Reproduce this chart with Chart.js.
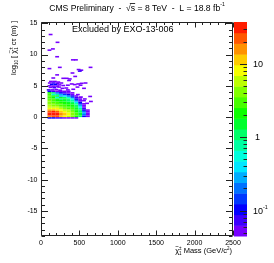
<!DOCTYPE html>
<html lang="en">
<head>
<meta charset="UTF-8">
<title>Chargino lifetime vs mass</title>
<script src="https://cdn.jsdelivr.net/npm/chart.js"></script>
<style>
  body { margin: 0; background: #fff; }
</style>
</head>
<body>
<canvas id="chart" width="274" height="263"></canvas>
<script>
// histogram bin sizes
const massBin = 50;
const logBin = 0.25;

// main blob: columns are mass bin centres, rows are log10(c tau) bin centres, bottom to top
const massCenters = [110, 160, 210, 260, 310, 360, 410, 460, 510, 560, 610];
const logCenters = [-0.125, 0.125, 0.375, 0.625, 0.875, 1.125, 1.375, 1.625, 1.875,
                    2.125, 2.375, 2.625, 2.875, 3.125, 3.375, 3.625, 3.875, 4.125];
const blobValues = [
  [0.1, 0.1, 0.08, 0.07, 0.06, 0.05, 0.05, 0.05, 0, 0, 0],
  [18, 26, 20, 12, 9, 6, 4, 2.5, 1.2, 0.1, 0.05],
  [28, 35, 28, 15, 10, 7, 4.5, 3, 1.5, 0.2, 0.05],
  [30, 36, 28, 16, 10, 7, 4.5, 3, 1.5, 0.3, 0.06],
  [24, 27, 20, 13, 9, 6, 4, 2.5, 1.2, 0.2, 0.05],
  [14, 15, 11, 8, 6, 5, 3.5, 2, 1, 0.12, 0.05],
  [9, 8, 7, 5, 4, 3.5, 3, 1.8, 0.7, 0.08, 0],
  [6, 5.5, 5, 4, 3.5, 3, 2.5, 1.5, 0.4, 0.06, 0],
  [5, 4.5, 4, 3.5, 3, 2.5, 2, 1, 0.25, 0.05, 0],
  [4.5, 4, 3.5, 3, 2.5, 2, 1.5, 0.8, 0.15, 0.05, 0],
  [4, 3.5, 3, 2.5, 2, 1.8, 1.2, 0.4, 0.1, 0, 0],
  [4, 3.5, 2.5, 2, 1.8, 1.2, 0.7, 0.2, 0.06, 0.05, 0],
  [3.5, 3, 2, 1.2, 1.5, 1, 0.5, 0.12, 0.05, 0, 0],
  [3.5, 2.5, 0.6, 1.5, 1, 0.5, 0.2, 0.08, 0.05, 0, 0],
  [3, 2.2, 1.5, 0.3, 0.4, 0.2, 0.1, 0.06, 0, 0, 0],
  [3, 0.5, 0.8, 0.3, 0.15, 0.1, 0.06, 0, 0, 0, 0],
  [2.5, 1, 0.2, 0.1, 0.08, 0.06, 0.05, 0, 0, 0, 0],
  [0.1, 0.08, 0.06, 0.05, 0.05, 0.05, 0, 0, 0, 0, 0]
];

// isolated cells above and right of the blob: [mass, log10(c tau), entries]
const strayCells = [
  [125, 13.2, 0.05], [215, 11.95, 0.05], [110, 10.7, 0.05], [155, 10.9, 0.05],
  [210, 9.65, 0.05], [415, 9.15, 0.05], [455, 9.15, 0.05],
  [110, 7.75, 0.05], [245, 7.95, 0.05], [490, 7.6, 0.06], [525, 7.5, 0.05],
  [505, 7.35, 0.08], [645, 7.95, 0.05], [410, 7.05, 0.05], [210, 6.75, 0.05],
  [445, 6.5, 0.05], [160, 6.25, 0.05], [290, 6.2, 0.05], [335, 6.2, 0.05],
  [375, 6.1, 0.05], [365, 5.85, 0.05],
  [130, 5.7, 0.05], [180, 5.7, 0.05], [225, 5.6, 0.05], [115, 5.45, 0.05],
  [165, 5.45, 0.07], [215, 5.4, 0.05], [265, 5.45, 0.05], [140, 5.2, 0.09],
  [190, 5.2, 0.12], [240, 5.15, 0.05], [110, 5.0, 0.05], [160, 4.95, 0.05],
  [210, 4.95, 0.05], [290, 5.05, 0.05], [350, 5.1, 0.06], [400, 5.3, 0.05],
  [440, 5.2, 0.05], [485, 5.3, 0.05], [530, 5.4, 0.05], [580, 5.45, 0.05],
  [515, 5.1, 0.05], [125, 4.75, 0.05], [175, 4.7, 0.07], [235, 4.8, 0.05],
  [330, 4.65, 0.05], [280, 4.6, 0.05], [475, 4.8, 0.05], [560, 4.6, 0.05],
  [100, 4.35, 0.07], [150, 4.35, 0.05], [200, 4.4, 0.05], [250, 4.3, 0.05],
  [350, 4.35, 0.05], [420, 4.45, 0.05], [650, 2.5, 0.05], [640, 3.3, 0.05],
  [520, 3.2, 0.05], [570, 2.9, 0.05], [600, 2.2, 0.05], [480, 3.6, 0.05]
];

const massTicks = [0, 500, 1000, 1500, 2000, 2500];
const logTicks = [-15, -10, -5, 0, 5, 10, 15];
const zTicks = [0.1, 1, 10];
const zRange = [0.045, 37];
const nLevels = 20;

const FONT = '"Liberation Sans", Arial, sans-serif';

function levelIndex(v) {
  const lo = Math.log10(zRange[0]), hi = Math.log10(zRange[1]);
  const i = Math.floor((Math.log10(v) - lo) / (hi - lo) * nLevels);
  return Math.max(0, Math.min(nLevels - 1, i));
}
function levelColor(i) {
  const hue = 275 * (1 - (i + 0.5) / nLevels);
  return 'hsl(' + hue.toFixed(1) + ',100%,50%)';
}

// text with sub/superscripts: [text, scale, rise(em), mode]
function drawParts(ctx, parts, x, y, size, align) {
  const items = [];
  let pos = 0, prevStart = 0, prevW = 0;
  for (const p of parts) {
    const [t, s = 1, rise = 0, mode = ''] = p;
    ctx.font = (size * s) + 'px ' + FONT;
    const w = ctx.measureText(t).width;
    let start;
    if (mode === 'over') {
      start = prevStart + (prevW - w) / 2;
    } else if (mode === 'stack') {
      start = prevStart;
      pos = Math.max(pos, start + w);
      prevStart = start; prevW = w;
    } else {
      start = pos; pos += w;
      prevStart = start; prevW = w;
    }
    items.push({ t, fs: size * s, rise: rise * size, start, w, mode });
  }
  const x0 = align === 'right' ? x - pos : align === 'center' ? x - pos / 2 : x;
  ctx.textBaseline = 'alphabetic';
  ctx.textAlign = 'left';
  for (const it of items) {
    ctx.font = it.fs + 'px ' + FONT;
    ctx.fillText(it.t, x0 + it.start, y - it.rise);
    if (it.mode === 'bar') {
      ctx.fillRect(x0 + it.start - 1, y - it.fs * 0.85, it.w + 1, 0.8);
    }
  }
}

const heatmap = {
  id: 'heatmap',
  beforeDatasetsDraw(chart) {
    const { ctx, chartArea: a, scales: { x, y } } = chart;
    ctx.save();
    ctx.beginPath();
    ctx.rect(a.left, a.top, a.right - a.left, a.bottom - a.top);
    ctx.clip();
    const cell = (m, l, v) => {
      if (!v || v < zRange[0]) return;
      const x0 = x.getPixelForValue(m - massBin / 2), x1 = x.getPixelForValue(m + massBin / 2);
      const y0 = y.getPixelForValue(l + logBin / 2), y1 = y.getPixelForValue(l - logBin / 2);
      ctx.fillStyle = levelColor(levelIndex(v));
      ctx.fillRect(x0, y0, x1 - x0, y1 - y0);
    };
    blobValues.forEach((row, j) => row.forEach((v, i) => cell(massCenters[i], logCenters[j], v)));
    strayCells.forEach(([m, l, v]) => cell(m, l, v));
    ctx.restore();
  }
};

const frame = {
  id: 'frame',
  afterDraw(chart) {
    const { ctx, chartArea: a, scales: { x, y, z } } = chart;
    ctx.save();
    ctx.strokeStyle = '#222';
    ctx.fillStyle = '#000';
    ctx.lineWidth = 1;
    const L = Math.round(a.left) + 0.5, R = Math.round(a.right) - 0.5;
    const T = Math.round(a.top) + 0.5, B = Math.round(a.bottom) - 0.5;

    // colour bar
    const cb0 = Math.round(a.right) + 1, cb1 = cb0 + 13;
    const lz0 = Math.log10(zRange[0]), lz1 = Math.log10(zRange[1]);
    for (let i = 0; i < nLevels; i++) {
      const vlo = Math.pow(10, lz0 + (lz1 - lz0) * i / nLevels);
      const vhi = Math.pow(10, lz0 + (lz1 - lz0) * (i + 1) / nLevels);
      const p0 = z.getPixelForValue(vlo), p1 = z.getPixelForValue(vhi);
      ctx.fillStyle = levelColor(i);
      ctx.fillRect(cb0, p1, cb1 - cb0, p0 - p1 + 0.5);
    }

    ctx.beginPath();
    ctx.moveTo(L, T); ctx.lineTo(R, T); ctx.lineTo(R, B); ctx.lineTo(L, B); ctx.closePath();
    for (let m = 0; m <= 2500; m += 100) {
      const px = Math.round(x.getPixelForValue(m)) + 0.5;
      const len = m % 500 === 0 ? 5 : 2.5;
      ctx.moveTo(px, B); ctx.lineTo(px, B - len);
      ctx.moveTo(px, T); ctx.lineTo(px, T + len);
    }
    for (let l = -19; l <= 15; l += 1) {
      const py = Math.round(y.getPixelForValue(l)) + 0.5;
      const len = l % 5 === 0 ? 6.5 : 3.5;
      ctx.moveTo(L, py); ctx.lineTo(L + len, py);
      ctx.moveTo(R, py); ctx.lineTo(R - len, py);
    }
    // colour bar axis ticks
    for (let e = -2; e <= 1; e++) {
      for (let k = 1; k <= 9; k++) {
        const v = k * Math.pow(10, e);
        if (v < zRange[0] || v > zRange[1]) continue;
        const py = Math.round(z.getPixelForValue(v)) + 0.5;
        const len = k === 1 ? 7 : 3.5;
        ctx.moveTo(cb1, py); ctx.lineTo(cb1 - len, py);
      }
    }
    ctx.stroke();

    ctx.fillStyle = '#000';
    zTicks.forEach(v => {
      const py = z.getPixelForValue(v) + 3.2;
      if (v === 1) drawParts(ctx, [['1']], cb1 + 8, py, 9, 'left');
      else if (v === 10) drawParts(ctx, [['10']], cb1 + 6, py, 9, 'left');
      else drawParts(ctx, [['10'], ['-1', 0.6, 0.5]], cb1 + 6, py, 9, 'left');
    });

    // title
    drawParts(ctx, [['CMS Preliminary  -  \u221A'], ['s', 1, 0, 'bar'],
      [' = 8 TeV  -  L = 18.8 fb'], ['-1', 0.6, 0.5]], 137, 10.5, 8.6, 'center');

    // label inside the frame
    drawParts(ctx, [['Excluded by EXO-13-006']], 72, 31.5, 9, 'left');

    // x axis title
    drawParts(ctx, [['\u03C7'], ['~', 0.8, 0.62, 'over'], ['1', 0.6, -0.3], ['\u00B1', 0.6, 0.45, 'stack'],
      [' Mass (GeV/c'], ['2', 0.6, 0.45], [')']], 232, 253, 7.5, 'right');

    // y axis title
    ctx.save();
    ctx.translate(16, 21);
    ctx.rotate(-Math.PI / 2);
    drawParts(ctx, [['log'], ['10', 0.6, -0.3], [' [ '], ['\u03C7'], ['~', 0.8, 0.62, 'over'],
      ['1', 0.6, -0.3], ['\u00B1', 0.6, 0.45, 'stack'], [' c\u03C4 (m) ]']], 0, 0, 7.5, 'right');
    ctx.restore();

    ctx.restore();
  }
};

const tickFont = { family: FONT, size: 7 };

new Chart(document.getElementById('chart'), {
  type: 'scatter',
  data: { datasets: [] },
  options: {
    responsive: false,
    animation: false,
    devicePixelRatio: 1,
    layout: { padding: { left: 0, top: 22, right: 41, bottom: 13 } },
    plugins: { legend: { display: false }, tooltip: { enabled: false } },
    scales: {
      x: {
        type: 'linear', min: 0, max: 2500,
        grid: { display: false, drawTicks: false },
        border: { display: false },
        afterBuildTicks: s => { s.ticks = massTicks.map(v => ({ value: v })); },
        afterFit: s => { s.height = 14; },
        ticks: { font: tickFont, color: '#000', padding: 3, maxRotation: 0, autoSkip: false,
                 callback: v => String(v) }
      },
      y: {
        type: 'linear', min: -19, max: 15.2,
        grid: { display: false, drawTicks: false },
        border: { display: false },
        afterBuildTicks: s => { s.ticks = logTicks.map(v => ({ value: v })); },
        afterFit: s => { s.width = 41; },
        ticks: { font: tickFont, color: '#000', padding: 3.5, autoSkip: false,
                 callback: v => String(v) }
      },
      z: {
        type: 'logarithmic', position: 'right', display: false,
        min: zRange[0], max: zRange[1]
      }
    }
  },
  plugins: [heatmap, frame]
});
</script>
</body>
</html>
